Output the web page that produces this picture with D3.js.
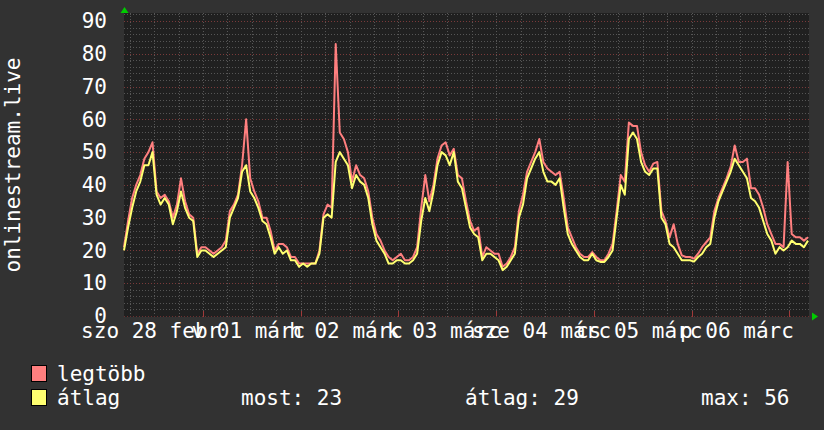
<!DOCTYPE html>
<html><head><meta charset="utf-8">
<script src="https://cdn.jsdelivr.net/npm/d3@7"></script>
<style>
html,body{margin:0;padding:0;background:#323232;}
svg{display:block;}
text{font-family:"DejaVu Sans Mono",monospace;fill:#ffffff;}
</style></head><body>
<script>
// ---- data ----
const startTime = "2015-02-28T04:35:00Z";
const hoursSpan = 168;
const avgValues = [20,27,33,38,41,46,46,50,37,34,36,34,28,32,38,33,30,29,18,20,20,19,18,19,20,21,30,33,36,44,46,38,36,33,29,28,24,19,21,19,20,17,17,15,16,15,16,16,19,30,31,30,47,50,48,46,39,43,41,40,36,28,23,21,19,16,16,17,17,16,16,17,19,29,36,32,38,46,50,49,46,50,41,39,33,27,25,24,17,19,19,18,17,14,15,17,19,30,34,42,45,48,50,44,41,41,40,42,33,25,22,20,18,17,17,19,17,16.5,16.5,18,20,30,40,37,54,56,54,47,44,43,45,45,30,28,22,21,19,17,17,17,16.6,18,19,21,22,30,35,38,41,44,48,46,44,42,36,35,33,29,25,23,19,21,20,21,23,22,22,21,23];
const maxValues = [21,29,36,40,43,48,50,53,38,36,37,35,30,34,42,35,31,30,19,21,21,20,19,20,21,23,32,34,37,46,60,42,38,35,30,30,26,20,22,22,21,18,18,16,16,16,16,16,20,31,34,33,83,56,54,50,41,46,43,42,38,30,25,23,20,18,17,18,19,17,17,18,21,33,43,35,40,48,52,53,49,51,43,42,35,29,26,27,18,21,20,19,19,15,16,18,21,32,37,44,47,50,54,47,45,44,43,44,36,27,24,21,19,18,18,19.5,18,17,17,19,22,32,43,41,59,58,58,50,46,44,46.5,47,32,29,24,28,22,18.5,18,18,17.5,19,21,22.5,24,32,36,39,42,45.5,52,47,47,48,39,39,37,33,28,25,22,22,21,47,25,24,24,23,24];
const yTicks = [0,10,20,30,40,50,60,70,80,90];
const xLabelTimes = ["2015-02-28T11:00:00Z","2015-03-01T11:00:00Z","2015-03-02T11:00:00Z","2015-03-03T11:00:00Z","2015-03-04T11:00:00Z","2015-03-05T11:00:00Z","2015-03-06T11:00:00Z"];
const xLabels = ["szo 28 febr","v 01 márc","h 02 márc","k 03 márc","sze 04 márc","cs 05 márc","p 06 márc"];
const yTitle = "onlinestream.live";
const seriesNames = ["legtöbb","átlag"];
const seriesColors = ["#ff7f7f","#ffff70"];
const statLabels = ["most: 23","átlag: 29","max: 56"];

// ---- layout ----
const W = 824, H = 430;
const plot = {left:124, right:809, top:13, bottom:317};
const t0 = new Date(startTime);
const t1 = new Date(t0.getTime() + hoursSpan*3600e3);
const x = d3.scaleUtc().domain([t0,t1]).range([124,808]);
const y = d3.scaleLinear().domain([0,90]).range([316,21]);
const times = avgValues.map((_,i)=> new Date(t0.getTime()+i*3600e3));

const svg = d3.select("body").append("svg").attr("width",W).attr("height",H);
svg.append("rect").attr("width",W).attr("height",H).attr("fill","#323232");
svg.append("rect").attr("x",plot.left).attr("y",plot.top)
  .attr("width",plot.right-plot.left).attr("height",plot.bottom-plot.top).attr("fill","#202020");

// grid
const g = svg.append("g").attr("shape-rendering","crispEdges");
const minorY = d3.range(2,93,2).filter(v=>v%10!==0);
g.selectAll(".hmin").data(minorY).join("line")
  .attr("x1",plot.left).attr("x2",plot.right)
  .attr("y1",d=>Math.round(y(d))+0.5).attr("y2",d=>Math.round(y(d))+0.5)
  .attr("stroke","#555555").attr("stroke-dasharray","1,2");
const vTicks = d3.utcHour.every(6).range(t0,t1);
g.selectAll(".vmin").data(vTicks).join("line")
  .attr("x1",d=>Math.round(x(d))+0.5).attr("x2",d=>Math.round(x(d))+0.5)
  .attr("y1",plot.top).attr("y2",plot.bottom)
  .attr("stroke","#575757").attr("stroke-dasharray","1,2");
g.selectAll(".hmaj").data(yTicks.filter(v=>v>0)).join("line")
  .attr("x1",plot.left).attr("x2",plot.right)
  .attr("y1",d=>Math.round(y(d))+0.5).attr("y2",d=>Math.round(y(d))+0.5)
  .attr("stroke","#7a3a3a").attr("stroke-dasharray","1,2");
const days = d3.utcDay.range(t0,t1);
g.selectAll(".dtick").data(days).join("line")
  .attr("x1",d=>Math.round(x(d))+0.5).attr("x2",d=>Math.round(x(d))+0.5)
  .attr("y1",311).attr("y2",317).attr("stroke","#a03a3a");
g.append("line").attr("x1",plot.left).attr("x2",plot.right).attr("y1",316.5).attr("y2",316.5)
  .attr("stroke","#6a3030").attr("stroke-dasharray","1,2");

// lines
const line = d3.line().x((d,i)=>x(times[i])).y(d=>y(d));
svg.append("path").datum(maxValues).attr("d",line).attr("fill","none")
  .attr("stroke",seriesColors[0]).attr("stroke-width",2).attr("stroke-linejoin","round");
svg.append("path").datum(avgValues).attr("d",line).attr("fill","none")
  .attr("stroke",seriesColors[1]).attr("stroke-width",2).attr("stroke-linejoin","round");

// arrows
svg.append("path").attr("d","M120.5,13 L124.5,7 L128.5,13 Z").attr("fill","#00cc00");
svg.append("path").attr("d","M812,312.5 L818,316.5 L812,320.5 Z").attr("fill","#00cc00");

// y axis
const ya = svg.append("g").attr("transform","translate(124,0)")
  .call(d3.axisLeft(y).tickValues(yTicks).tickSize(0).tickPadding(17));
ya.select(".domain").remove();
ya.selectAll("text").style("font-size","21px").style("font-family","DejaVu Sans Mono").attr("fill","#fff");

// x axis labels
const xa = svg.append("g").attr("transform","translate(0,316)")
  .call(d3.axisBottom(x).tickValues(xLabelTimes.map(s=>new Date(s)))
    .tickFormat((d,i)=>xLabels[i]).tickSize(0).tickPadding(7));
xa.select(".domain").remove();
xa.selectAll("text").style("font-size","21px").style("font-family","DejaVu Sans Mono").attr("fill","#fff");

// y title
svg.append("text").attr("transform","translate(20,165) rotate(-90)")
  .attr("text-anchor","middle").style("font-size","21px").text(yTitle);

// legend
const rows = [381,405];
seriesNames.forEach((n,i)=>{
  svg.append("rect").attr("x",31.5).attr("y",rows[i]-15.5).attr("width",15).attr("height",16)
    .attr("fill",seriesColors[i]).attr("stroke","#000").attr("stroke-width",1);
  svg.append("text").attr("x",57).attr("y",rows[i]).style("font-size","21px").text(n);
});
const statX = [241,465,701];
statLabels.forEach((s,i)=>{
  svg.append("text").attr("x",statX[i]).attr("y",rows[1]).style("font-size","21px").text(s);
});
</script>
</body></html>
